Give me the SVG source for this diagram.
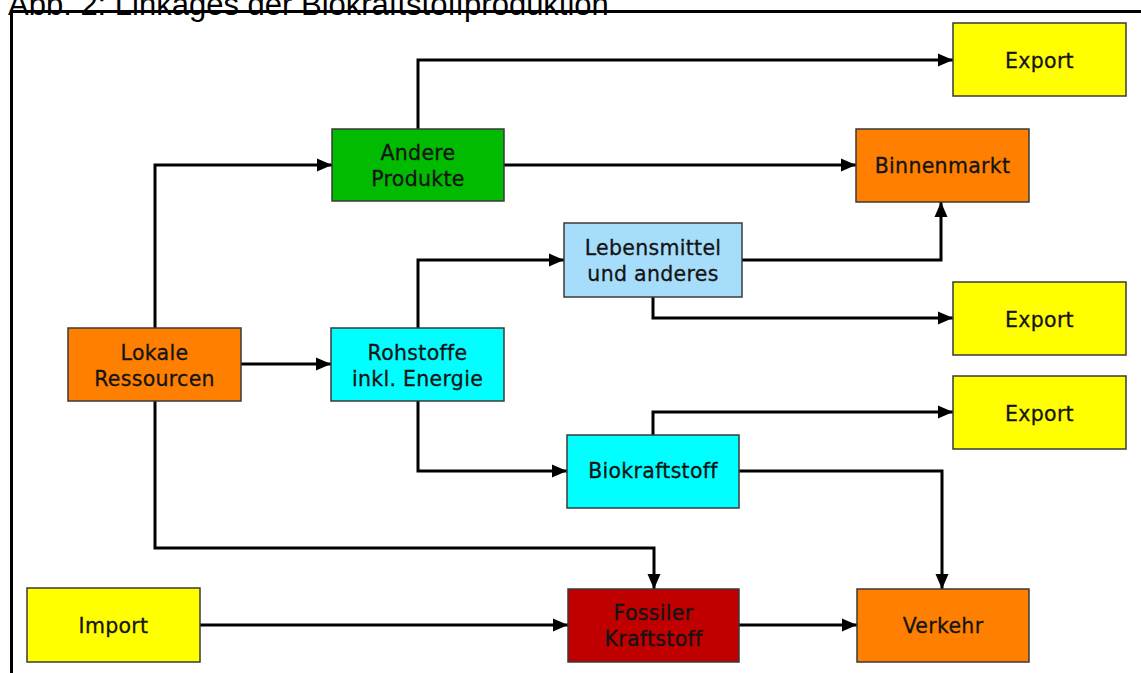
<svg xmlns="http://www.w3.org/2000/svg" width="1141" height="673" viewBox="0 0 1141 673">
<style>
.box{stroke:#3a3a3a;stroke-width:1.5}
.t{font-family:"DejaVu Sans",Verdana,sans-serif;font-size:20.5px;fill:#141414;text-anchor:middle;letter-spacing:0.3px;stroke:#141414;stroke-width:0.3}
.c{fill:none;stroke:#000;stroke-width:3;marker-end:url(#ah)}
</style>
<defs>
<marker id="ah" markerUnits="userSpaceOnUse" markerWidth="16" markerHeight="16" viewBox="0 0 16 16" refX="15" refY="8" orient="auto">
<path d="M0,1.5 L15,8 L0,14.5 Z" fill="#000"/>
</marker>
</defs>
<rect width="1141" height="673" fill="#fff"/>
<text x="8" y="15" font-family="Liberation Sans, Arial, sans-serif" font-size="31" fill="#000">Abb. 2: Linkages der Biokraftstoffproduktion</text>
<path d="M11.5,673 V11.5 H1141" fill="none" stroke="#000" stroke-width="3"/>
<g id="connectors">
<path class="c" d="M155,328 V165 H332"/>
<path class="c" d="M418,129 V60 H953"/>
<path class="c" d="M504,165 H856"/>
<path class="c" d="M241,364 H331"/>
<path class="c" d="M418,328 V260 H564"/>
<path class="c" d="M742,260 H941 V202"/>
<path class="c" d="M653,297 V318 H953"/>
<path class="c" d="M418,401 V471 H567"/>
<path class="c" d="M653,435 V412 H953"/>
<path class="c" d="M739,471 H942 V589"/>
<path class="c" d="M155,401 V548 H654 V589"/>
<path class="c" d="M200,625 H568"/>
<path class="c" d="M739,625 H857"/>
</g>
<g id="export1"><rect class="box" x="953" y="23" width="173" height="73" fill="#ffff00"/><text class="t" x="1039.5" y="68">Export</text></g>
<g id="binnenmarkt"><rect class="box" x="856" y="129" width="173" height="73" fill="#ff8000"/><text class="t" x="942.5" y="173">Binnenmarkt</text></g>
<g id="andere"><rect class="box" x="332" y="129" width="172" height="72" fill="#00bb00"/><text class="t" x="418" y="160">Andere</text><text class="t" x="418" y="186">Produkte</text></g>
<g id="lebensmittel"><rect class="box" x="564" y="223" width="178" height="74" fill="#a6ddfb"/><text class="t" x="653" y="255">Lebensmittel</text><text class="t" x="653" y="281">und anderes</text></g>
<g id="export2"><rect class="box" x="953" y="282" width="173" height="73" fill="#ffff00"/><text class="t" x="1039.5" y="327">Export</text></g>
<g id="lokale"><rect class="box" x="68" y="328" width="173" height="73" fill="#ff8000"/><text class="t" x="154.5" y="360">Lokale</text><text class="t" x="154.5" y="386">Ressourcen</text></g>
<g id="rohstoffe"><rect class="box" x="331" y="328" width="173" height="73" fill="#00ffff"/><text class="t" x="417.5" y="360">Rohstoffe</text><text class="t" x="417.5" y="386">inkl. Energie</text></g>
<g id="export3"><rect class="box" x="953" y="376" width="173" height="73" fill="#ffff00"/><text class="t" x="1039.5" y="421">Export</text></g>
<g id="biokraftstoff"><rect class="box" x="567" y="435" width="172" height="73" fill="#00ffff"/><text class="t" x="653" y="478">Biokraftstoff</text></g>
<g id="import"><rect class="box" x="27" y="588" width="173" height="74" fill="#ffff00"/><text class="t" x="113.5" y="633">Import</text></g>
<g id="fossiler"><rect class="box" x="568" y="589" width="171" height="73" fill="#c00000"/><text class="t" x="653.5" y="620">Fossiler</text><text class="t" x="653.5" y="646">Kraftstoff</text></g>
<g id="verkehr"><rect class="box" x="857" y="589" width="172" height="73" fill="#ff8000"/><text class="t" x="943" y="633">Verkehr</text></g>
</svg>
